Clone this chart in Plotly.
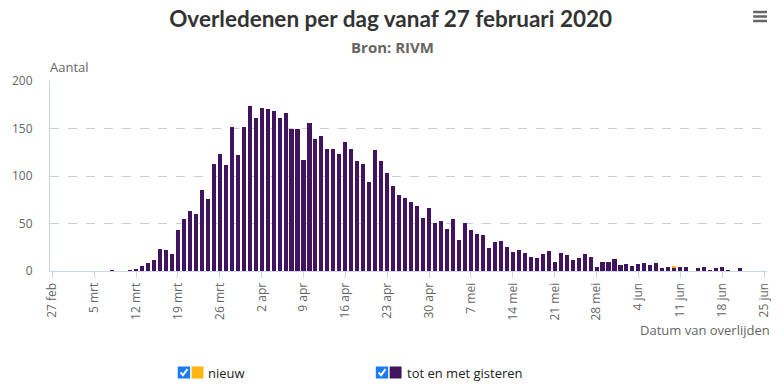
import plotly.graph_objects as go
import pandas as pd

# ---- data ----
start_date = "2020-03-08"
tot_en_met_gisteren = [
    # maart 8..31
    1, 0, 0, 1, 2, 5, 8, 12, 23, 22, 18, 43, 55, 63, 60, 85, 76, 113, 123, 112, 152, 122, 152, 174,
    # april 1..30
    161, 172, 171, 168, 161, 166, 150, 149, 117, 156, 139, 142, 128, 128, 123, 136, 128, 116, 113, 94,
    127, 116, 103, 90, 80, 77, 73, 68, 56, 66,
    # mei 1..31
    51, 53, 44, 55, 33, 51, 43, 39, 38, 24, 31, 32, 25, 20, 22, 19, 15, 14, 18, 21,
    10, 19, 17, 12, 14, 18, 15, 4, 10, 10, 13,
    # juni 1..21
    6, 7, 5, 7, 8, 6, 8, 3, 4, 4, 4, 4, 0, 3, 4, 1, 3, 4, 1, 0, 3,
]
nieuw = [0] * len(tot_en_met_gisteren)
nieuw[94] = 1  # 10 jun

tick_start = "2020-02-27"
tick_labels = ["27 feb", "5 mrt", "12 mrt", "19 mrt", "26 mrt", "2 apr", "9 apr", "16 apr",
               "23 apr", "30 apr", "7 mei", "14 mei", "21 mei", "28 mei", "4 jun", "11 jun",
               "18 jun", "25 jun"]
y_ticks = [0, 50, 100, 150, 200]

dates = pd.date_range(start_date, periods=len(tot_en_met_gisteren), freq="D")
tick_vals = pd.date_range(tick_start, periods=len(tick_labels), freq="7D")

PURPLE = "#42145F"
YELLOW = "#FFB612"
GRAY = "#666666"
FONT = "Open Sans"

W, H = 784, 387
L, R, T, B = 47, 13, 81, 116
pw, ph = W - L - R, H - T - B


def px(x):
    return (x - L) / pw


def py(y):
    return (H - B - y) / ph


bar_w = 0.68 * 86400000

fig = go.Figure()
fig.add_trace(go.Bar(x=dates, y=tot_en_met_gisteren, name="tot en met gisteren",
                     marker=dict(color=PURPLE, line=dict(width=0)), width=bar_w))
fig.add_trace(go.Bar(x=dates, y=nieuw, name="nieuw",
                     marker=dict(color=YELLOW, line=dict(width=0)), width=bar_w))

shapes = []
annotations = []

# legend (checkbox + colour square + label)
for cb_x, sq_col, label in [(176, YELLOW, "nieuw"), (376, PURPLE, "tot en met gisteren")]:
    top, bot = 366.5, 378.5
    shapes.append(dict(type="rect", xref="paper", yref="paper",
                       x0=px(cb_x), x1=px(cb_x + 12.5), y0=py(bot), y1=py(top),
                       fillcolor="#1a7cf2", line=dict(width=0), layer="above"))
    shapes.append(dict(type="path", xref="paper", yref="paper",
                       path=f"M{px(cb_x + 2.8)},{py(372.5)} L{px(cb_x + 5.3)},{py(375.2)} L{px(cb_x + 9.8)},{py(369.2)}",
                       line=dict(color="white", width=2), layer="above"))
    shapes.append(dict(type="rect", xref="paper", yref="paper",
                       x0=px(cb_x + 14), x1=px(cb_x + 26), y0=py(bot), y1=py(top),
                       fillcolor=sq_col, line=dict(width=0), layer="above"))
    annotations.append(dict(text=label, xref="paper", yref="paper", x=px(cb_x + 29), y=py(372.5),
                            xanchor="left", yanchor="middle", showarrow=False,
                            font=dict(family=FONT, size=13, color="#222222")))

# hamburger menu icon
for yy in (12, 16.5, 21):
    shapes.append(dict(type="line", xref="paper", yref="paper",
                       x0=px(757), x1=px(771), y0=py(yy), y1=py(yy),
                       line=dict(color=GRAY, width=2.5)))

annotations.append(dict(text="<b>Bron: RIVM</b>", xref="paper", yref="paper", x=px(393),
                        y=py(47), xanchor="center", yanchor="middle", showarrow=False,
                        font=dict(family=FONT, size=15, color=GRAY)))
annotations.append(dict(text="Aantal", xref="paper", yref="paper", x=px(44.5), y=py(67),
                        xanchor="left", yanchor="middle", showarrow=False,
                        font=dict(family=FONT, size=13, color=GRAY)))
annotations.append(dict(text="Datum van overlijden", xref="paper", yref="paper", x=px(776), y=py(330),
                        xanchor="right", yanchor="middle", showarrow=False,
                        font=dict(family=FONT, size=13, color=GRAY)))

fig.update_layout(
    width=W, height=H,
    margin=dict(l=L, r=R, t=T, b=B, pad=0),
    paper_bgcolor="white", plot_bgcolor="white",
    barmode="stack", bargap=0,
    showlegend=False,
    title=dict(text="<b>Overledenen per dag vanaf 27 februari 2020</b>", x=px(391), xref="paper",
               xanchor="center", y=1 - 19 / H, yref="container", yanchor="middle",
               font=dict(family="Lato", size=22.5, color="#333333")),
    font=dict(family=FONT, size=12, color=GRAY),
    shapes=shapes, annotations=annotations,
    xaxis=dict(
        type="date",
        range=["2020-02-26 14:50", "2020-06-25 12:00"],
        tickmode="array", tickvals=tick_vals, ticktext=tick_labels,
        tickangle=-90, ticks="outside", ticklen=6, tickcolor="#ccd6eb", tickwidth=1,
        showline=True, linecolor="#ccd6eb", linewidth=1,
        showgrid=False, zeroline=False,
        tickfont=dict(family=FONT, size=12, color=GRAY),
        fixedrange=True,
    ),
    yaxis=dict(
        range=[0, 200], tickmode="array", tickvals=y_ticks,
        showgrid=True, gridcolor="#c9cedb", griddash="dash", gridwidth=1,
        showline=True, linecolor="#ccd6eb", linewidth=1,
        zeroline=False, ticks="", ticklabelstandoff=14,
        tickfont=dict(family=FONT, size=12, color=GRAY),
        fixedrange=True,
    ),
)

fig.write_html("out.html", config={"displayModeBar": False},
               post_script="document.body.style.margin='0';document.body.style.overflow='hidden';")
